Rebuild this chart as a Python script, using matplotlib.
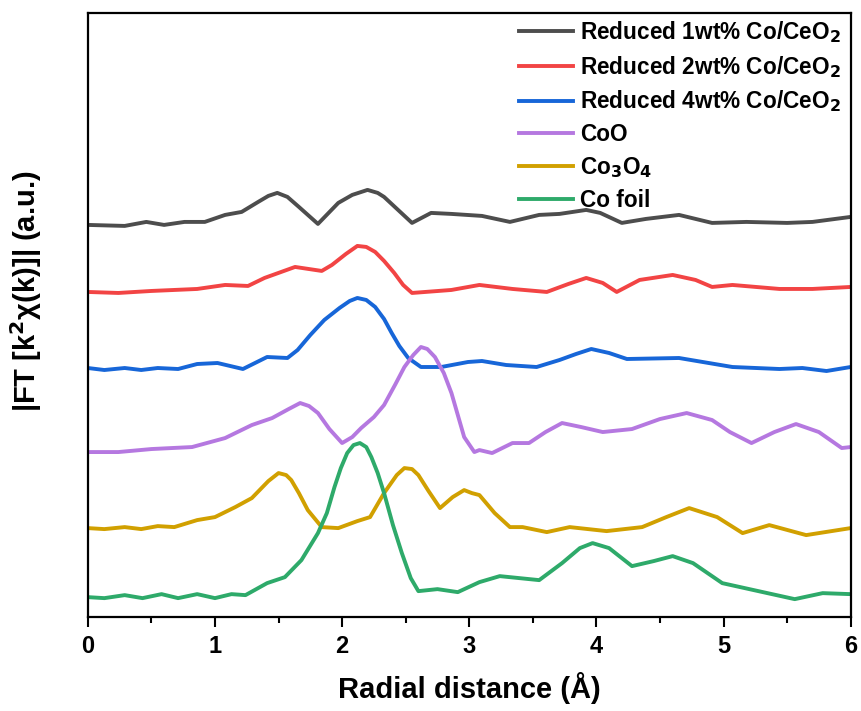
import matplotlib
matplotlib.use("Agg")
import matplotlib.pyplot as plt
from matplotlib.ticker import MultipleLocator

plt.rcParams['font.family'] = ['Liberation Sans', 'DejaVu Sans']
plt.rcParams['font.weight'] = 'bold'
plt.rcParams['mathtext.default'] = 'bf'

# radial distance (A) and stacked |FT| intensity (a.u.)
x_1wt = [0, 0.29, 0.46, 0.6, 0.76, 0.92, 1.08, 1.21, 1.34, 1.42, 1.49, 1.57, 1.66, 1.81, 1.97, 2.08,
         2.2, 2.28, 2.33, 2.44, 2.55, 2.7, 2.86, 3.1, 3.32, 3.55, 3.71, 3.92, 4.03, 4.2, 4.39, 4.65,
         4.91, 5.18, 5.5, 5.7, 6.0]
y_1wt = [392, 391, 395, 392, 395, 395, 402, 405, 415, 421, 424, 420, 410, 393, 414, 422,
         427, 424, 420, 407, 394, 404, 403, 401, 395, 402, 403, 407, 404, 394, 398, 402,
         394, 395, 394, 395, 400]

x_2wt = [0, 0.24, 0.5, 0.86, 1.08, 1.26, 1.39, 1.63, 1.84, 1.92, 2.03, 2.12, 2.19, 2.26, 2.33, 2.41,
         2.48, 2.55, 2.86, 3.08, 3.34, 3.61, 3.78, 3.92, 4.05, 4.16, 4.34, 4.6, 4.78, 4.91, 5.07,
         5.44, 5.7, 6.0]
y_2wt = [325, 324, 326, 328, 332, 331, 339, 350, 346, 352, 363, 371, 370, 365, 356, 344,
         332, 324, 327, 332, 328, 325, 333, 339, 334, 325, 337, 342, 337, 330, 332,
         328, 328, 330]

x_4wt = [0, 0.13, 0.29, 0.42, 0.55, 0.71, 0.86, 1.02, 1.22, 1.41, 1.57, 1.65, 1.75, 1.86, 1.98, 2.06,
         2.12, 2.19, 2.26, 2.33, 2.39, 2.45, 2.52, 2.62, 2.78, 2.99, 3.1, 3.29, 3.53, 3.71, 3.84,
         3.96, 4.1, 4.24, 4.65, 5.07, 5.44, 5.62, 5.81, 6.0]
y_4wt = [249, 247, 249, 247, 249, 248, 253, 254, 248, 260, 259, 267, 282, 297, 309, 316,
         319, 317, 310, 298, 284, 271, 259, 250, 250, 255, 256, 252, 250, 257, 263,
         268, 264, 258, 259, 250, 248, 249, 246, 250]

x_coo = [0, 0.24, 0.5, 0.82, 1.08, 1.29, 1.45, 1.58, 1.67, 1.74, 1.81, 1.9, 2.0, 2.08, 2.15, 2.25,
         2.33, 2.42, 2.49, 2.56, 2.62, 2.67, 2.73, 2.8, 2.86, 2.91, 2.96, 3.04, 3.08, 3.18, 3.34,
         3.47, 3.6, 3.73, 3.88, 4.05, 4.28, 4.5, 4.71, 4.91, 5.05, 5.22, 5.4, 5.57, 5.75, 5.93,
         6.0]
y_coo = [165, 165, 168, 170, 179, 192, 199, 208, 214, 211, 204, 188, 174, 180, 189, 200,
         212, 233, 250, 262, 270, 268, 260, 244, 224, 202, 180, 165, 167, 164, 174,
         174, 185, 194, 190, 185, 188, 198, 204, 197, 185, 174, 185, 193, 185, 169,
         170]

x_co3o4 = [0, 0.13, 0.29, 0.42, 0.55, 0.68, 0.86, 1.0, 1.16, 1.29, 1.42, 1.5, 1.56, 1.6, 1.66, 1.73,
           1.84, 1.97, 2.12, 2.22, 2.33, 2.43, 2.49, 2.55, 2.6, 2.68, 2.77, 2.87, 2.96, 3.02, 3.08,
           3.2, 3.32, 3.42, 3.61, 3.79, 4.08, 4.36, 4.55, 4.73, 4.95, 5.15, 5.36, 5.65, 6.0]
y_co3o4 = [89, 88, 90, 88, 91, 90, 97, 100, 110, 119, 136, 144, 142, 137, 124, 107,
           90, 89, 96, 100, 124, 142, 149, 148, 142, 126, 109, 120, 127, 124, 122,
           104, 90, 90, 85, 90, 86, 90, 100, 109, 100, 84, 92, 82, 89]

x_foil = [0, 0.13, 0.29, 0.43, 0.58, 0.71, 0.86, 1.0, 1.13, 1.24, 1.41, 1.55, 1.68, 1.81, 1.88, 1.94,
          1.99, 2.04, 2.09, 2.14, 2.19, 2.23, 2.28, 2.33, 2.4, 2.47, 2.54, 2.6, 2.75, 2.91, 3.08,
          3.24, 3.55, 3.73, 3.87, 3.97, 4.1, 4.28, 4.45, 4.6, 4.76, 4.99, 5.31, 5.56, 5.78, 6.0]
y_foil = [20, 19, 22, 19, 23, 19, 23, 19, 23, 22, 34, 40, 57, 84, 104, 130,
          149, 164, 172, 174, 170, 160, 144, 124, 92, 64, 39, 26, 28, 25, 35,
          41, 37, 54, 69, 74, 69, 51, 56, 61, 54, 34, 25, 18, 24, 23]

labels = ['Reduced 1wt% Co/CeO$_2$', 'Reduced 2wt% Co/CeO$_2$', 'Reduced 4wt% Co/CeO$_2$',
          'CoO', 'Co$_3$O$_4$', 'Co foil']
colors = ['#4d4d4d', '#f24444', '#1766d8', '#b578e0', '#d1a000', '#2eaa6a']

fig = plt.figure(figsize=(8.61, 7.11), dpi=100)
ax = fig.add_axes([0.102, 0.132, 0.886, 0.850])

series = [(x_1wt, y_1wt), (x_2wt, y_2wt), (x_4wt, y_4wt),
          (x_coo, y_coo), (x_co3o4, y_co3o4), (x_foil, y_foil)]
for (xs, ys), lab, c in zip(series, labels, colors):
    ax.plot(xs, ys, color=c, lw=2.8, label=lab, solid_joinstyle='round')

ax.set_xlim(0, 6)
ax.set_ylim(0, 604)
ax.set_yticks([])
ax.xaxis.set_major_locator(MultipleLocator(1))
ax.xaxis.set_minor_locator(MultipleLocator(0.5))
ax.tick_params(axis='x', which='major', direction='out', length=7, width=1.5, labelsize=17, pad=6)
ax.tick_params(axis='x', which='minor', direction='out', length=4, width=1.5)
for s in ax.spines.values():
    s.set_linewidth(1.6)

ax.set_xlabel('Radial distance (Å)', fontsize=21, fontweight='bold', labelpad=10)
ax.set_ylabel('|FT [k$^2$χ(k)]| (a.u.)', fontsize=21, fontweight='bold')
ax.yaxis.set_label_coords(-0.058, 0.54)

ax.legend(loc='upper right', bbox_to_anchor=(1.008, 1.016), frameon=False, fontsize=16.3,
          handlelength=2.4, handletextpad=0.3, labelspacing=0.39, borderaxespad=0.3)

fig.savefig('out.png', dpi=100)
